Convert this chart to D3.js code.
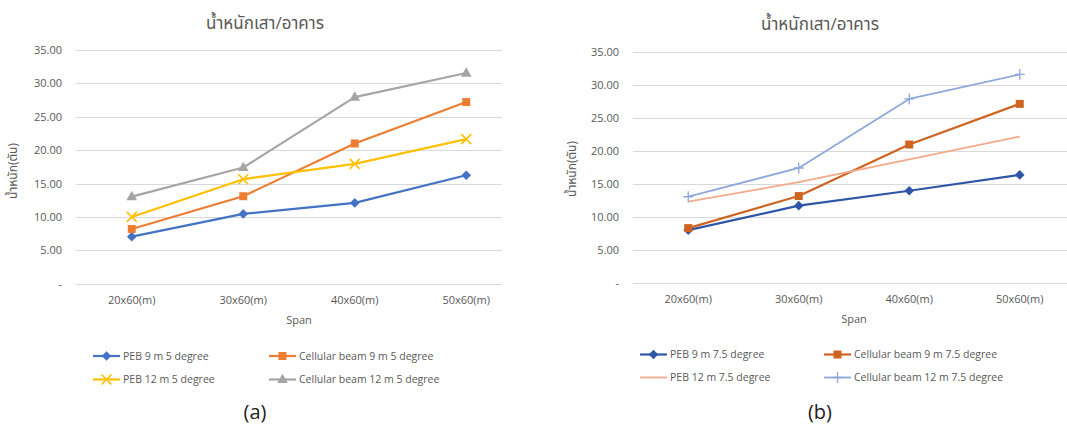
<!DOCTYPE html>
<html>
<head>
<meta charset="utf-8">
<script src="https://cdn.jsdelivr.net/npm/d3@7/dist/d3.min.js"></script>
<style>
  html, body { margin: 0; padding: 0; background: #fff; }
  svg { display: block; }
  text { font-family: "Open Sans", "Noto Sans Thai", "Noto Sans", "DejaVu Sans", sans-serif; }
</style>
</head>
<body>
<svg id="fig" width="1067" height="427"></svg>
<script>
// Span categories and value axis ticks
const categories = ["20x60(m)", "30x60(m)", "40x60(m)", "50x60(m)"];
const yTickValues = [0, 5, 10, 15, 20, 25, 30, 35];

// Panel (a): 5 degree roof slope, weight in tonnes
const peb9m5 = [7.05, 10.45, 12.1, 16.25];
const cellular9m5 = [8.2, 13.1, 21.0, 27.2];
const peb12m5 = [10.0, 15.65, 17.95, 21.65];
const cellular12m5 = [13.05, 17.4, 27.95, 31.55];

// Panel (b): 7.5 degree roof slope, weight in tonnes
const peb9m75 = [8.05, 11.75, 14.0, 16.4];
const cellular9m75 = [8.35, 13.2, 21.0, 27.15];
const peb12m75 = [12.35, 15.3, 18.75, 22.2];
const cellular12m75 = [13.1, 17.45, 27.9, 31.6];

const seriesA = [
  { name: "PEB 9 m 5 degree", values: peb9m5, color: "#4472C4", marker: "diamond", width: 2.2 },
  { name: "Cellular beam 9 m 5 degree", values: cellular9m5, color: "#ED7D31", marker: "square", width: 2.2 },
  { name: "PEB 12 m 5 degree", values: peb12m5, color: "#FFC000", marker: "x", width: 2.2 },
  { name: "Cellular beam 12 m 5 degree", values: cellular12m5, color: "#A5A5A5", marker: "triangle", width: 2.2 }
];
const seriesB = [
  { name: "PEB 9 m 7.5 degree", values: peb9m75, color: "#2F56A6", marker: "diamond", width: 2.2 },
  { name: "Cellular beam 9 m 7.5 degree", values: cellular9m75, color: "#CF6420", marker: "square", width: 2.2 },
  { name: "PEB 12 m 7.5 degree", values: peb12m75, color: "#F4A98A", marker: "none", width: 1.8 },
  { name: "Cellular beam 12 m 7.5 degree", values: cellular12m75, color: "#8EA8DC", marker: "plus", width: 1.8 }
];

const svg = d3.select("#fig");
const TEXT = "#595959";

function drawMarker(g, type, x, y, color) {
  if (type === "diamond") {
    const r = 4.8;
    g.append("path").attr("d", `M${x},${y - r}L${x + r},${y}L${x},${y + r}L${x - r},${y}Z`).attr("fill", color);
  } else if (type === "square") {
    g.append("rect").attr("x", x - 4).attr("y", y - 4).attr("width", 8).attr("height", 8).attr("fill", color);
  } else if (type === "triangle") {
    g.append("path").attr("d", d3.symbol(d3.symbolTriangle, 50)())
      .attr("transform", `translate(${x},${y + 0.5})`).attr("fill", color);
  } else if (type === "x") {
    g.append("path").attr("d", `M${x - 5},${y - 5}L${x + 5},${y + 5}M${x - 5},${y + 5}L${x + 5},${y - 5}`)
      .attr("stroke", color).attr("stroke-width", 1.6).attr("fill", "none");
  } else if (type === "plus") {
    g.append("path").attr("d", `M${x - 5},${y}L${x + 5},${y}M${x},${y - 5.5}L${x},${y + 5.5}`)
      .attr("stroke", color).attr("stroke-width", 1.3).attr("fill", "none");
  }
}

function drawPanel(cfg) {
  const g = svg.append("g");
  const clipId = "clip-" + cfg.id;
  svg.append("clipPath").attr("id", clipId).append("rect")
    .attr("x", cfg.clip[0]).attr("y", 0).attr("width", cfg.clip[1] - cfg.clip[0]).attr("height", 427);
  const plot = g.append("g").attr("clip-path", `url(#${clipId})`);

  const x = d3.scaleBand().domain(categories).range([cfg.left, cfg.right]);
  const y = d3.scaleLinear().domain([0, 35]).range([cfg.bottom, cfg.top]);
  const cx = d => x(d) + x.bandwidth() / 2;

  // Horizontal gridlines
  plot.selectAll(".grid").data(yTickValues).join("line")
    .attr("x1", cfg.left).attr("x2", cfg.right)
    .attr("y1", d => Math.round(y(d)) + 0.5).attr("y2", d => Math.round(y(d)) + 0.5)
    .attr("stroke", "#D9D9D9").attr("stroke-width", 1);

  // Value axis
  const yAxis = d3.axisLeft(y).tickValues(yTickValues)
    .tickFormat(v => v === 0 ? "-" : v.toFixed(2)).tickSize(0).tickPadding(0);
  const ya = g.append("g").attr("transform", `translate(${cfg.labelRight},0)`).call(yAxis);
  ya.select(".domain").remove();
  ya.selectAll("text").attr("fill", TEXT).style("font-size", "11px");

  // Category axis
  const xAxis = d3.axisBottom(x).tickSize(0).tickPadding(0);
  const xa = plot.append("g").attr("transform", `translate(0,${cfg.bottom + 12})`).call(xAxis);
  xa.select(".domain").remove();
  xa.selectAll("text").attr("fill", TEXT).style("font-size", "11px");

  // Titles
  g.append("text").attr("x", cfg.titleX).attr("y", cfg.titleY).attr("text-anchor", "middle")
    .attr("fill", TEXT).style("font-size", "17px").text("น้ำหนักเสา/อาคาร");
  g.append("text").attr("x", (cfg.left + cfg.right) / 2).attr("y", cfg.bottom + 40).attr("text-anchor", "middle")
    .attr("fill", TEXT).style("font-size", "11px").text("Span");
  g.append("text").attr("transform", `translate(${cfg.yTitleX},${cfg.yTitleY}) rotate(-90)`)
    .attr("text-anchor", "middle").attr("fill", TEXT).style("font-size", "12px").text("น้ำหนัก(ตัน)");

  // Series lines and markers
  const line = d3.line().x((d, i) => cx(categories[i])).y(d => y(d));
  cfg.series.forEach(s => {
    plot.append("path").datum(s.values).attr("d", line)
      .attr("fill", "none").attr("stroke", s.color).attr("stroke-width", s.width)
      .attr("stroke-linejoin", "round");
    s.values.forEach((v, i) => drawMarker(plot, s.marker, cx(categories[i]), y(v), s.color));
  });

  // Legend
  cfg.series.forEach((s, i) => {
    const lx = cfg.legendX[i % 2];
    const ly = cfg.legendY[Math.floor(i / 2)];
    g.append("line").attr("x1", lx).attr("x2", lx + 27).attr("y1", ly).attr("y2", ly)
      .attr("stroke", s.color).attr("stroke-width", s.width);
    drawMarker(g, s.marker, lx + 13.5, ly, s.color);
    g.append("text").attr("x", lx + 30).attr("y", ly).attr("dy", "0.35em")
      .attr("fill", TEXT).style("font-size", "10.5px").text(s.name);
  });

  // Panel caption
  g.append("text").attr("x", cfg.captionX).attr("y", 419).attr("text-anchor", "middle")
    .attr("fill", "#222").style("font-size", "20px").text(cfg.caption);
}

drawPanel({
  id: "a", series: seriesA, left: 76, right: 522, top: 50, bottom: 283.7, clip: [0, 502],
  labelRight: 62, titleX: 265, titleY: 29, yTitleX: 17, yTitleY: 171,
  legendX: [93, 269], legendY: [356, 379.5], caption: "(a)", captionX: 255
});
drawPanel({
  id: "b", series: seriesB, left: 633, right: 1075, top: 52, bottom: 283.3, clip: [502, 1067],
  labelRight: 619, titleX: 820, titleY: 30, yTitleX: 576, yTitleY: 169,
  legendX: [640, 824], legendY: [354.5, 377.5], caption: "(b)", captionX: 820
});
</script>
</body>
</html>
